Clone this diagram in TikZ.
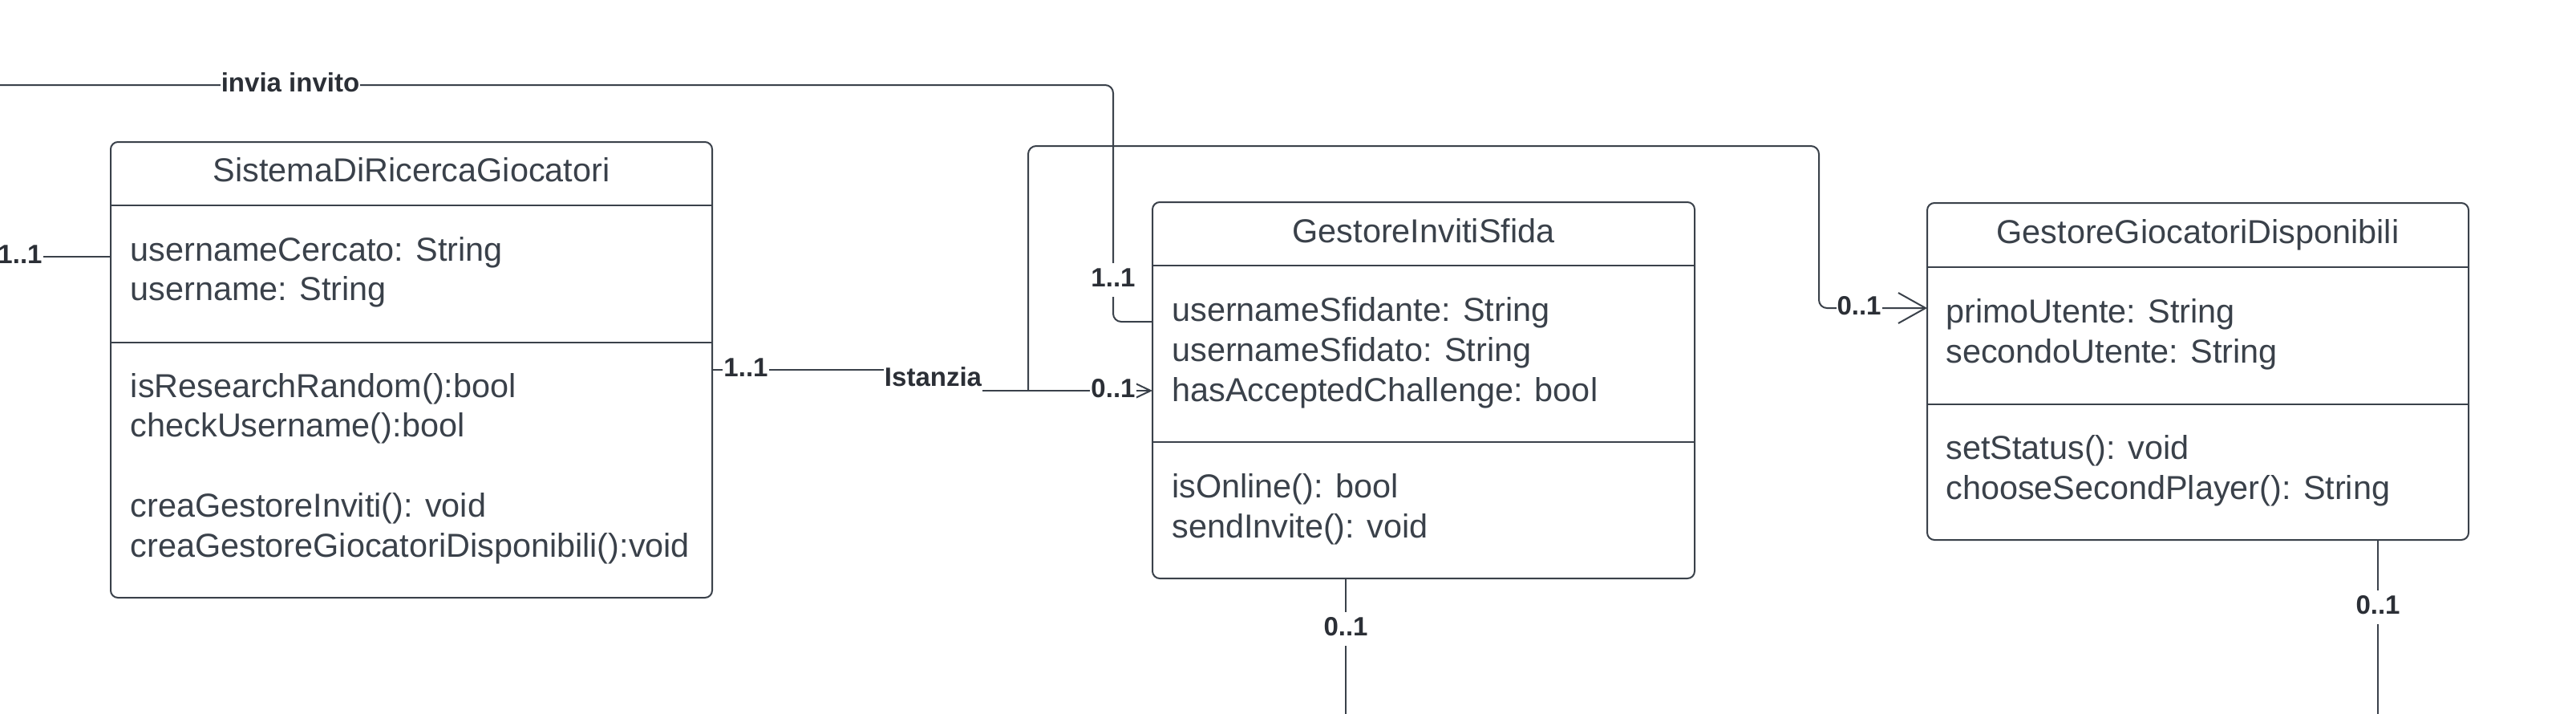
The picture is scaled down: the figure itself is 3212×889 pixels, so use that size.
\documentclass[tikz,border=0pt]{standalone}
\usepackage{fontspec}
\setmainfont{Liberation Sans}
\usetikzlibrary{arrows.meta}
\definecolor{ink}{HTML}{3A414A}
\definecolor{lab}{HTML}{2B2F36}
\begin{document}
\begin{tikzpicture}[x=0.5pt,y=-0.5pt,
  umlbox/.style={draw=ink, line width=1pt, rounded corners=4.5pt, inner sep=0pt, outer sep=0pt},
  boxtitle/.style={text=ink, font=\fontsize{20.7pt}{25pt}\selectfont, inner sep=0pt, anchor=base},
  member/.style={text=ink, font=\fontsize{20.7pt}{25pt}\selectfont, inner sep=0pt, anchor=base west},
  hsep/.style={draw=ink, line width=0.6pt},
  msep/.style={draw=ink, line width=1pt},
  conn/.style={draw=ink, line width=1pt, rounded corners=5pt},
  lbl/.style={text=lab, font=\fontsize{16.5pt}{19pt}\selectfont\bfseries, fill=white,
    inner xsep=0.5pt, inner ysep=2.8pt, text height=11.9pt, text depth=3.5pt},
  sarrow/.style={-{Straight Barb[length=11pt,width=10.5pt]}},
  barrow/.style={-{Straight Barb[length=17pt,width=19pt]}}
]
\useasboundingbox (0,0) rectangle (3212,889);
\fill[white] (0,0) rectangle (3212,889);

% ---- boxes ----
\node[umlbox, minimum width=375pt, minimum height=284pt] (b1) at (513,461) {};
\node[umlbox, minimum width=338pt, minimum height=234.5pt] (b2) at (1775,486.5) {};
\node[umlbox, minimum width=337.5pt, minimum height=210pt] (b3) at (2740.5,463) {};

% separators
\draw[hsep] (138,256) -- (888,256);
\draw[msep] (138,427) -- (888,427);
\draw[hsep] (1437,331) -- (2113,331);
\draw[msep] (1437,551) -- (2113,551);
\draw[hsep] (2403,333) -- (3078,333);
\draw[msep] (2403,504) -- (3078,504);

% box 1 text
\node[boxtitle] (t1) at (513,226) {SistemaDiRicercaGiocatori};
\node[member] (a1a) at (162.5,325.6) {usernameCercato: String};
\node[member] (a1b) at (162.5,374.7) {username: String};
\node[member] (m1a) at (162.5,495) {isResearchRandom():bool};
\node[member] (m1b) at (162.5,544) {checkUsername():bool};
\node[member] (m1c) at (162.5,644.5) {creaGestoreInviti(): void};
\node[member] (m1d) at (162.5,694) {creaGestoreGiocatoriDisponibili():void};

% box 2 text
\node[boxtitle] (t2) at (1775,302) {GestoreInvitiSfida};
\node[member] (a2a) at (1461,400.5) {usernameSfidante: String};
\node[member] (a2b) at (1461,450.5) {usernameSfidato: String};
\node[member] (a2c) at (1461,500.5) {hasAcceptedChallenge: bool};
\node[member] (m2a) at (1461,620) {isOnline(): bool};
\node[member] (m2b) at (1461,670) {sendInvite(): void};

% box 3 text
\node[boxtitle] (t3) at (2740.5,303) {GestoreGiocatoriDisponibili};
\node[member] (a3a) at (2426,402) {primoUtente: String};
\node[member] (a3b) at (2426,452) {secondoUtente: String};
\node[member] (m3a) at (2426,572) {setStatus(): void};
\node[member] (m3b) at (2426,622) {chooseSecondPlayer(): String};

% ---- connectors ----
\coordinate (invS) at (-10,106);
\coordinate (yInv) at (0,401);
\draw[conn] (invS) -- (1388,106) -- (1388,401) -- (b2.west |- yInv);

\coordinate (leftS) at (-10,320);
\coordinate (yD) at (0,320);
\draw[conn] (leftS) -- (b1.west |- yD);

\coordinate (yA) at (0,461);
\coordinate (yB) at (0,487);
\draw[conn, rounded corners=0pt, sarrow] (b1.east |- yA) -- (1163,461) -- (1163,487) -- (b2.west |- yB);

\coordinate (J) at (1282,487);
\coordinate (yC) at (0,384);
\draw[conn, barrow] (J) -- (1282,182) -- (2268,182) -- (2268,384) -- (b3.west |- yC);

\coordinate (b2S) at (1678,900);
\draw[conn] (b2.south -| b2S) -- (b2S);
\coordinate (b3S) at (2965,900);
\draw[conn] (b3.south -| b3S) -- (b3S);

% ---- labels ----
\node[lbl] (lInv) at (362,106) {invia invito};
\node[lbl] (l11a) at (25,320) {1..1};
\node[lbl] (l11b) at (930,461) {1..1};
\node[lbl] (lIst) at (1163.5,473) {Istanzia};
\node[lbl] (l01a) at (1388,487) {0..1};
\node[lbl] (l11c) at (1388,349) {1..1};
\node[lbl] (l01b) at (2318,384) {0..1};
\node[lbl] (l01c) at (1678,784) {0..1};
\node[lbl] (l01d) at (2965,757) {0..1};
\end{tikzpicture}
\end{document}
